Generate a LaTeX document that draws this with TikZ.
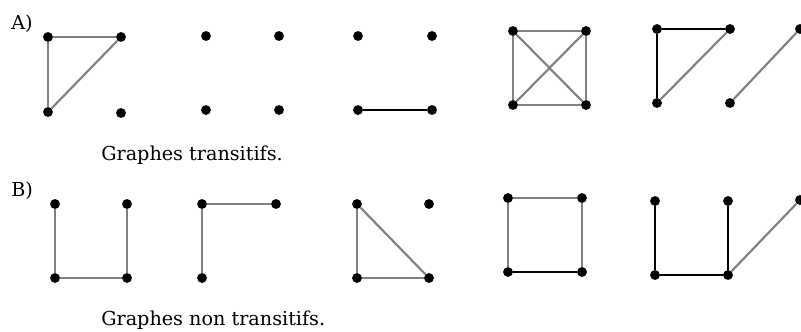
\documentclass[tikz,border=0pt]{standalone}
\usepackage{fontspec}
\setmainfont{DejaVu Serif}
\begin{document}
\begin{tikzpicture}[
every node/.style={font=\fontsize{14.4}{17}\selectfont},
x=0.75pt,
y=-0.75pt,
pt/.style={circle,fill=black,inner sep=0pt,minimum size=7.4pt},
txt/.style={anchor=base west,inner sep=0pt},
gedge/.style={draw=gray,line width=1.6pt},
bedge/.style={draw=black,line width=1.1pt}
]
\useasboundingbox (0,0) rectangle (801,332);

% labels
\node[txt] (labA) at (11,29) {A)};
\node[txt] (labB) at (11,196) {B)};
\node[txt] (capA) at (101,160) {Graphes transitifs.};
\node[txt] (capB) at (101,325) {Graphes non transitifs.};

% row A
\node[pt] (a1) at (48,37) {};
\node[pt] (a2) at (121,37) {};
\node[pt] (a3) at (48,112) {};
\node[pt] (a4) at (121,113) {};

\node[pt] (a5) at (206,36) {};
\node[pt] (a6) at (279,36) {};
\node[pt] (a7) at (206,110) {};
\node[pt] (a8) at (279,110) {};

\node[pt] (a9) at (358,36) {};
\node[pt] (a10) at (432,36) {};
\node[pt] (a11) at (358,110) {};
\node[pt] (a12) at (432,110) {};

\node[pt] (a13) at (513,31) {};
\node[pt] (a14) at (586,31) {};
\node[pt] (a15) at (513,105) {};
\node[pt] (a16) at (586,105) {};

\node[pt] (a17) at (657,29) {};
\node[pt] (a18) at (730,29) {};
\node[pt] (a19) at (657,103) {};
\node[pt] (a20) at (730,103) {};
\node[pt] (a21) at (800,29) {};

% row B
\node[pt] (b1) at (55,204) {};
\node[pt] (b2) at (127,204) {};
\node[pt] (b3) at (55,278) {};
\node[pt] (b4) at (127,278) {};

\node[pt] (b5) at (202,204) {};
\node[pt] (b6) at (276,204) {};
\node[pt] (b7) at (202,278) {};

\node[pt] (b8) at (357,204) {};
\node[pt] (b9) at (429,204) {};
\node[pt] (b10) at (357,278) {};
\node[pt] (b11) at (429,278) {};

\node[pt] (b12) at (508,198) {};
\node[pt] (b13) at (582,198) {};
\node[pt] (b14) at (508,272) {};
\node[pt] (b15) at (582,272) {};

\node[pt] (b16) at (655,201) {};
\node[pt] (b17) at (728,201) {};
\node[pt] (b18) at (655,275) {};
\node[pt] (b19) at (728,275) {};
\node[pt] (b20) at (800,200) {};

% edges, row A
\draw[gedge] (a1) -- (a2);
\draw[gedge] (a1) -- (a3);
\draw[gedge] (a3) -- (a2);

\draw[bedge] (a11) -- (a12);

\draw[gedge] (a13) -- (a14);
\draw[gedge] (a13) -- (a15);
\draw[gedge] (a14) -- (a16);
\draw[gedge] (a15) -- (a16);
\draw[gedge] (a13) -- (a16);
\draw[gedge] (a14) -- (a15);

\draw[bedge] (a17) -- (a18);
\draw[bedge] (a17) -- (a19);
\draw[gedge] (a19) -- (a18);
\draw[gedge] (a20) -- (a21);

% edges, row B
\draw[gedge] (b1) -- (b3);
\draw[gedge] (b2) -- (b4);
\draw[gedge] (b3) -- (b4);

\draw[gedge] (b5) -- (b6);
\draw[gedge] (b5) -- (b7);

\draw[gedge] (b8) -- (b10);
\draw[gedge] (b10) -- (b11);
\draw[gedge] (b8) -- (b11);

\draw[gedge] (b12) -- (b13);
\draw[gedge] (b12) -- (b14);
\draw[gedge] (b13) -- (b15);
\draw[bedge] (b14) -- (b15);

\draw[bedge] (b16) -- (b18);
\draw[bedge] (b17) -- (b19);
\draw[bedge] (b18) -- (b19);
\draw[gedge] (b19) -- (b20);

\end{tikzpicture}
\end{document}
